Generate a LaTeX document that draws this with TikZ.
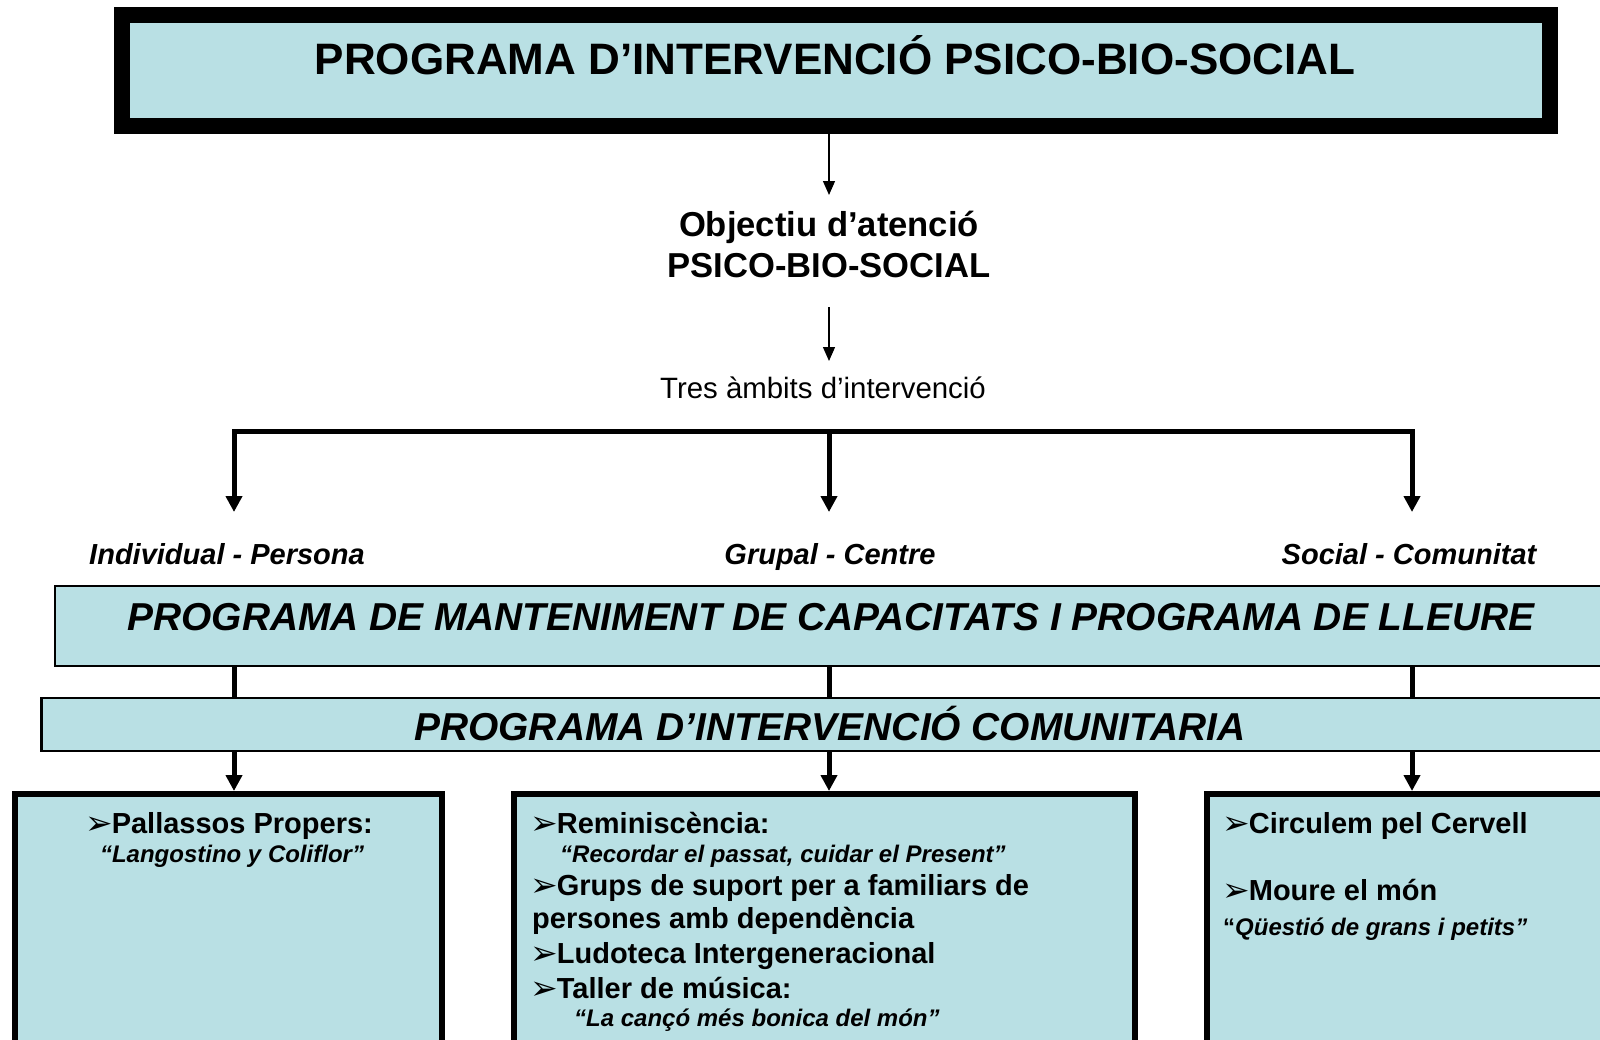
\documentclass[tikz,border=0pt]{standalone}
\usepackage{fontspec}
\setmainfont{Liberation Sans}
\newfontfamily\dingfont{DejaVu Sans}
\usetikzlibrary{arrows.meta}
\definecolor{boxblue}{RGB}{185,224,228}
\newcommand\myfs[1]{\fontsize{#1}{#1}\selectfont}
\newcommand\arr{\raisebox{-1pt}{\dingfont\myfs{33}➢}\kern-1pt}
\tikzset{
  frame/.style={draw, line width=16pt, fill=boxblue, inner sep=0pt, rectangle},
  band/.style={draw, line width=2.5pt, fill=boxblue, inner sep=0pt, rectangle, anchor=north west},
  panel/.style={draw, line width=6pt, fill=boxblue, inner sep=0pt, rectangle, anchor=north west},
  thinarrow/.style={line width=1.3pt, -{Triangle[length=14pt,width=12pt]}},
  thickline/.style={line width=5pt},
  thickarrow/.style={line width=5pt, -{Triangle[length=16pt,width=16pt]}},
  txt/.style={inner sep=0pt, anchor=base},
  txtl/.style={inner sep=0pt, anchor=base west},
  big/.style={font=\bfseries\myfs{29}},
  quo/.style={font=\bfseries\itshape\myfs{24}}
}
\begin{document}
\begin{tikzpicture}[x=1pt,y=-1pt]
\path[use as bounding box] (0,0) rectangle (1600,1039);
\clip (0,0) rectangle (1600,1039);
\fill[white] (0,0) rectangle (1600,1039);

% top frame
\node[frame, minimum width=1428pt, minimum height=111pt] (top) at (836,70.5) {};
\node[txt, font=\bfseries\myfs{44}] (title) at (835,74) {PROGRAMA D’INTERVENCIÓ PSICO-BIO-SOCIAL};

% objective
\coordinate (t1) at (829,195);
\draw[thinarrow] (top.south -| t1) -- (t1);
\node[txt, font=\bfseries\myfs{34.6}] (objA) at (829,236) {Objectiu d’atenció};
\node[txt, font=\bfseries\myfs{34.6}] (objB) at (829,277) {PSICO-BIO-SOCIAL};
\coordinate (s2) at (829,307);
\coordinate (t2) at (829,361);
\draw[thinarrow] (s2) -- (t2);
\node[txt, font=\myfs{29.4}] (tres) at (823,398) {Tres àmbits d’intervenció};

% bar and drops
\coordinate (j1) at (234,431);
\coordinate (j2) at (829,431);
\coordinate (j3) at (1412,431);
\draw[thickline, line cap=rect] (j1) -- (j3);
\coordinate (d1) at (234,512);
\coordinate (d2) at (829,512);
\coordinate (d3) at (1412,512);
\draw[thickarrow] (j1) -- (d1);
\draw[thickarrow] (j2) -- (d2);
\draw[thickarrow] (j3) -- (d3);

\node[txt, font=\bfseries\itshape\myfs{29}] (lab1) at (227,564) {Individual - Persona};
\node[txt, font=\bfseries\itshape\myfs{29}] (lab2) at (830,564) {Grupal - Centre};
\node[txt, font=\bfseries\itshape\myfs{29}] (lab3) at (1409,564) {Social - Comunitat};

% program bands
\node[band, minimum width=1650pt, minimum height=80pt] (box2) at (53.5,584.5) {};
\node[txt, font=\bfseries\itshape\myfs{38.9}] (box2t) at (831,630) {PROGRAMA DE MANTENIMENT DE CAPACITATS I PROGRAMA DE LLEURE};
\node[band, minimum width=1650pt, minimum height=53pt] (box3) at (40,696.5) {};
\node[txt, font=\bfseries\itshape\myfs{38.9}] (box3t) at (830,740) {PROGRAMA D’INTERVENCIÓ COMUNITARIA};

\draw[thickline] (j1 |- box2.south) -- (j1 |- box3.north);
\draw[thickline] (j2 |- box2.south) -- (j2 |- box3.north);
\draw[thickline] (j3 |- box2.south) -- (j3 |- box3.north);

% bottom panels
\node[panel, minimum width=427pt, minimum height=400pt] (b1) at (12,791) {};
\node[panel, minimum width=621pt, minimum height=400pt] (b2) at (511,791) {};
\node[panel, minimum width=600pt, minimum height=400pt] (b3) at (1204,791) {};

\draw[thickarrow] (j1 |- box3.south) -- (j1 |- b1.north);
\draw[thickarrow] (j2 |- box3.south) -- (j2 |- b2.north);
\draw[thickarrow] (j3 |- box3.south) -- (j3 |- b3.north);

% left panel text
\node[txt, big] (p1) at (229,833) {\arr Pallassos Propers:};
\node[txt, quo] (p2) at (232,862) {“Langostino y Coliflor”};

% middle panel text
\node[txtl, big] (m1) at (530,833) {\arr Reminiscència:};
\node[txtl, quo] (m2) at (560,862) {“Recordar el passat, cuidar el Present”};
\node[txtl, big] (m3) at (530,895) {\arr Grups de suport per a familiars de};
\node[txtl, big] (m4) at (532,928) {persones amb dependència};
\node[txtl, big] (m5) at (530,963) {\arr Ludoteca Intergeneracional};
\node[txtl, big] (m6) at (530,998) {\arr Taller de música:};
\node[txtl, quo] (m7) at (574,1026) {“La cançó més bonica del món”};

% right panel text
\node[txtl, big] (r1) at (1222,833) {\arr Circulem pel Cervell};
\node[txtl, big] (r2) at (1222,900) {\arr Moure el món};
\node[txtl, quo] (r3) at (1223,935) {{\upshape “}Qüestió de grans i petits”};
\end{tikzpicture}
\end{document}
